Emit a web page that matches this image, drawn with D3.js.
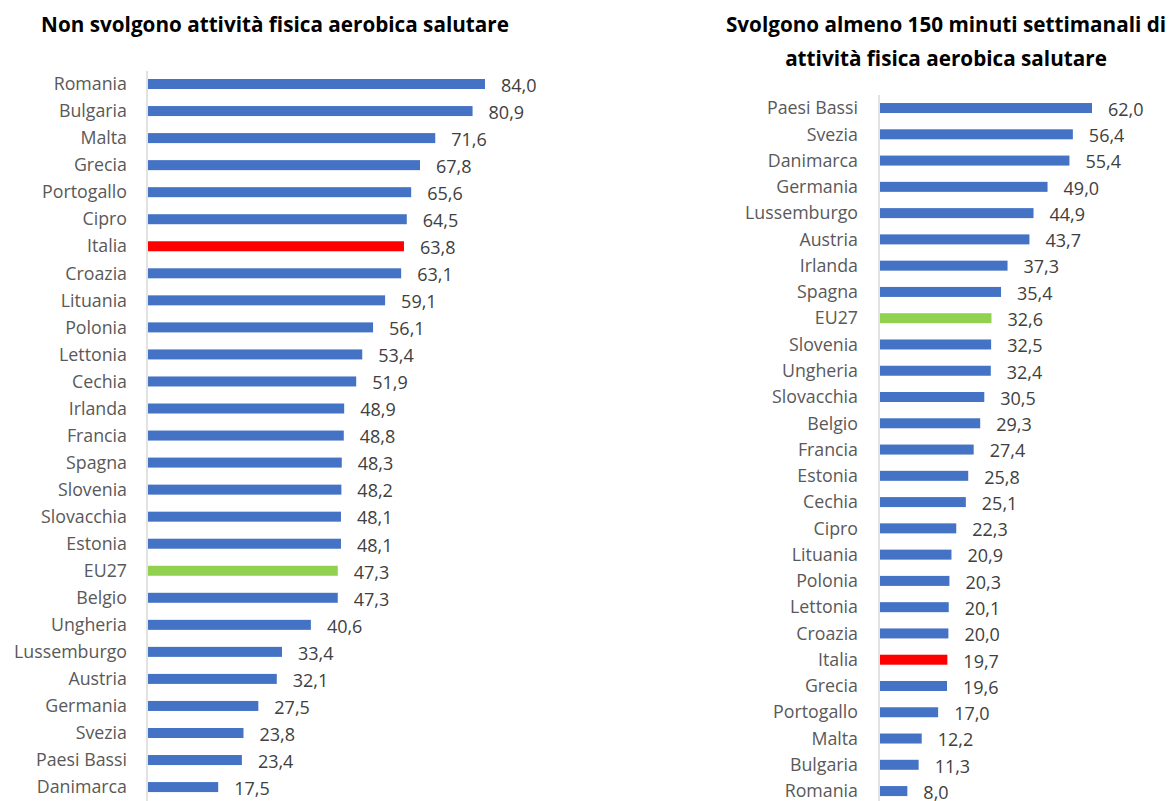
<!DOCTYPE html>
<html><head><meta charset="utf-8">
<script src="https://cdn.jsdelivr.net/npm/d3@7"></script>
<style>body{margin:0;background:#fff;}svg{display:block;}</style>
</head><body><svg id="c" width="1173" height="801"></svg>
<script>
const leftTitle = ["Non svolgono attività fisica aerobica salutare"];
const leftCountries = ["Romania","Bulgaria","Malta","Grecia","Portogallo","Cipro","Italia","Croazia","Lituania","Polonia","Lettonia","Cechia","Irlanda","Francia","Spagna","Slovenia","Slovacchia","Estonia","EU27","Belgio","Ungheria","Lussemburgo","Austria","Germania","Svezia","Paesi Bassi","Danimarca"];
const leftValues = [84.0,80.9,71.6,67.8,65.6,64.5,63.8,63.1,59.1,56.1,53.4,51.9,48.9,48.8,48.3,48.2,48.1,48.1,47.3,47.3,40.6,33.4,32.1,27.5,23.8,23.4,17.5];

const rightTitle = ["Svolgono almeno 150 minuti settimanali di","attività fisica aerobica salutare"];
const rightCountries = ["Paesi Bassi","Svezia","Danimarca","Germania","Lussemburgo","Austria","Irlanda","Spagna","EU27","Slovenia","Ungheria","Slovacchia","Belgio","Francia","Estonia","Cechia","Cipro","Lituania","Polonia","Lettonia","Croazia","Italia","Grecia","Portogallo","Malta","Bulgaria","Romania"];
const rightValues = [62.0,56.4,55.4,49.0,44.9,43.7,37.3,35.4,32.6,32.5,32.4,30.5,29.3,27.4,25.8,25.1,22.3,20.9,20.3,20.1,20.0,19.7,19.6,17.0,12.2,11.3,8.0];

const fmt = v => v.toFixed(1).replace(".", ",");
const colorFor = c => c === "Italia" ? "#FF0000" : (c === "EU27" ? "#92D050" : "#4472C4");
const svg = d3.select("#c");
const font = "'Open Sans', sans-serif";

function panel(cfg) {
  const g = svg.append("g");
  const data = cfg.countries.map((c, i) => ({c, v: cfg.values[i]}));
  const y = d3.scalePoint().domain(cfg.countries).range([cfg.y0, cfg.y1]).padding(0.5);
  const x = d3.scaleLinear().domain([0, cfg.dmax]).range([cfg.x0, cfg.x1]);
  cfg.title.forEach((t, i) => {
    g.append("text").attr("x", cfg.tx).attr("y", cfg.ty + i * 34)
      .attr("text-anchor", "middle").attr("font-family", font).attr("font-weight", 700)
      .attr("font-size", 20.7).attr("fill", "#000").text(t);
  });
  g.selectAll("rect.bar").data(data).join("rect").attr("class","bar")
    .attr("x", x(0)).attr("y", d => y(d.c) - 5).attr("height", 10)
    .attr("width", d => x(d.v) - x(0)).attr("fill", d => colorFor(d.c));
  g.append("line").attr("x1", x(0) - 1).attr("x2", x(0) - 1)
    .attr("y1", cfg.ay0).attr("y2", 801).attr("stroke", "#D9D9D9").attr("stroke-width", 1.5);
  g.selectAll("text.cat").data(data).join("text").attr("class","cat")
    .attr("x", cfg.lx).attr("y", d => y(d.c)).attr("dy", "0.35em")
    .attr("text-anchor", "end").attr("font-family", font).attr("font-size", 17.8)
    .attr("fill", "#595959").text(d => d.c);
  g.selectAll("text.val").data(data).join("text").attr("class","val")
    .attr("x", d => x(d.v) + 16).attr("y", d => y(d.c) + 1.5).attr("dy", "0.35em")
    .attr("font-family", font).attr("font-size", 18)
    .attr("fill", "#404040").text(d => fmt(d.v));
}

panel({title: leftTitle, tx: 275, ty: 32, countries: leftCountries, values: leftValues,
  y0: 70.5, y1: 800.6, x0: 148, x1: 485, dmax: 84, lx: 127, ay0: 71});
panel({title: rightTitle, tx: 946, ty: 32, countries: rightCountries, values: rightValues,
  y0: 94.9, y1: 804.2, x0: 880, x1: 1092, dmax: 62, lx: 858, ay0: 95});
</script></body></html>
